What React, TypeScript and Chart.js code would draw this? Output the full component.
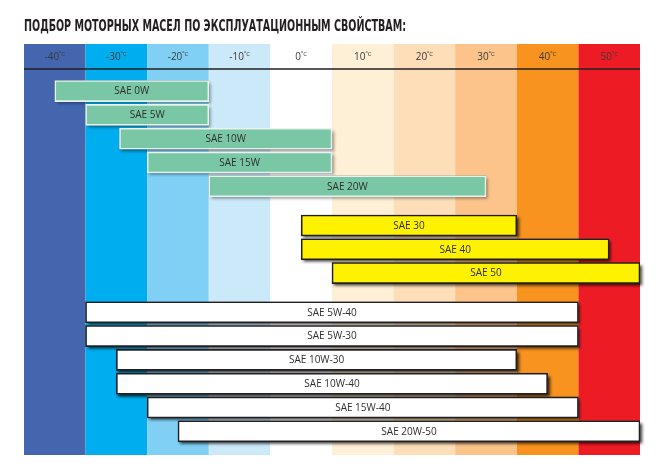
import { useEffect, useRef } from "react";
import { Chart, registerables } from "chart.js";

Chart.register(...registerables);

const chartTitle = "ПОДБОР МОТОРНЫХ МАСЕЛ ПО ЭКСПЛУАТАЦИОННЫМ СВОЙСТВАМ:";

// temperature columns (°C) and their band colours
const temperatures = [-40, -30, -20, -10, 0, 10, 20, 30, 40, 50];
const bandColors = [
  "#4366AF", "#00AEEF", "#80D0F5", "#CCE9F9", "#FFFFFF",
  "#FEF0D6", "#FDDEB9", "#FCC38B", "#F7931E", "#ED1C24",
];

// winter grades
const winterGrades = ["SAE 0W", "SAE 5W", "SAE 10W", "SAE 15W", "SAE 20W"];
const winterLow = [-40, -35, -29.5, -25, -15];
const winterHigh = [-15, -15, 5, 5, 30];

// summer grades
const summerGrades = ["SAE 30", "SAE 40", "SAE 50"];
const summerLow = [0, 0, 5];
const summerHigh = [35, 50, 55];

// all-season grades
const allSeasonGrades = ["SAE 5W-40", "SAE 5W-30", "SAE 10W-30", "SAE 10W-40", "SAE 15W-40", "SAE 20W-50"];
const allSeasonLow = [-35, -35, -30, -30, -25, -20];
const allSeasonHigh = [45, 45, 35, 40, 45, 55];

const groups = [
  { labels: winterGrades, low: winterLow, high: winterHigh, fill: "#79C7A5", border: "#E9F2ED", shadow: "rgba(0,0,0,0.4)" },
  { labels: summerGrades, low: summerLow, high: summerHigh, fill: "#FFF200", border: "#231F20", shadow: "rgba(0,0,0,0.75)" },
  { labels: allSeasonGrades, low: allSeasonLow, high: allSeasonHigh, fill: "#FFFFFF", border: "#231F20", shadow: "rgba(0,0,0,0.8)" },
];

const GROUP_GAP = 0.65;

function buildDatasets() {
  let row = 0;
  return groups.map((g, gi) => {
    const data = g.labels.map((_, i) => {
      const d = { x: [g.low[i], g.high[i]], y: row + gi * GROUP_GAP };
      row += 1;
      return d;
    });
    return {
      label: g.labels.join(","),
      names: g.labels,
      data,
      backgroundColor: g.fill,
      borderColor: g.border,
      borderWidth: 1.6,
      borderSkipped: false,
      barThickness: 21,
      grouped: false,
      shadowColor: g.shadow,
    };
  });
}

const decorPlugin = {
  id: "decor",
  beforeDatasetsDraw(chart: any) {
    const { ctx, chartArea } = chart;
    const xs = chart.scales.x;
    ctx.save();
    // temperature bands
    temperatures.forEach((t, i) => {
      const l = xs.getPixelForValue(t - 5);
      const r = xs.getPixelForValue(t + 5);
      ctx.fillStyle = bandColors[i];
      ctx.fillRect(l, chartArea.top, r - l, chartArea.bottom - chartArea.top);
    });
    // header labels
    const headerY = chartArea.top + 13;
    temperatures.forEach((t) => {
      const cx = xs.getPixelForValue(t);
      const num = String(t);
      const sup = "ºC";
      ctx.font = "10px 'Open Sans'";
      const wn = ctx.measureText(num).width;
      ctx.font = "6px 'Open Sans'";
      const ws = ctx.measureText(sup).width;
      const start = cx - (wn + ws) / 2;
      ctx.fillStyle = "#3A3A3A";
      ctx.textBaseline = "middle";
      ctx.textAlign = "left";
      ctx.font = "10px 'Open Sans'";
      ctx.fillText(num, start, headerY);
      ctx.font = "6px 'Open Sans'";
      ctx.fillText(sup, start + wn, headerY - 3);
    });
    // header line
    ctx.strokeStyle = "#231F20";
    ctx.lineWidth = 1.6;
    ctx.beginPath();
    ctx.moveTo(chartArea.left, chartArea.top + 25);
    ctx.lineTo(chartArea.right, chartArea.top + 25);
    ctx.stroke();
    // bar shadows
    chart.data.datasets.forEach((ds: any, di: number) => {
      const meta = chart.getDatasetMeta(di);
      meta.data.forEach((el: any) => {
        const { x, y, base, height } = el.getProps(["x", "y", "base", "height"], true);
        const left = Math.min(x, base);
        const w = Math.abs(x - base);
        ctx.save();
        ctx.shadowColor = ds.shadowColor;
        ctx.shadowBlur = 3;
        ctx.shadowOffsetX = 2;
        ctx.shadowOffsetY = 2.5;
        ctx.fillStyle = "#444";
        ctx.fillRect(left, y - height / 2, w, height);
        ctx.restore();
      });
    });
    ctx.restore();
  },
  afterDatasetsDraw(chart: any) {
    const { ctx } = chart;
    ctx.save();
    ctx.font = "10px 'Open Sans'";
    ctx.fillStyle = "#2E2E2E";
    ctx.textAlign = "center";
    ctx.textBaseline = "middle";
    chart.data.datasets.forEach((ds: any, di: number) => {
      const meta = chart.getDatasetMeta(di);
      meta.data.forEach((el: any, i: number) => {
        const { x, y, base } = el.getProps(["x", "y", "base"], true);
        ctx.fillText(ds.names[i], (x + base) / 2, y + 0.5);
      });
    });
    ctx.restore();
  },
  afterDraw(chart: any) {
    const { ctx, chartArea } = chart;
    ctx.save();
    ctx.font = "bold 16px 'Liberation Sans Narrow', 'DejaVu Sans Condensed', sans-serif";
    ctx.fillStyle = "#231F20";
    ctx.textAlign = "left";
    ctx.textBaseline = "alphabetic";
    ctx.fillText(chartTitle, chartArea.left, 31, 382);
    ctx.restore();
  },
};

export default function App() {
  const ref = useRef<HTMLCanvasElement | null>(null);
  useEffect(() => {
    if (!ref.current) return;
    const datasets = buildDatasets();
    const chart = new Chart(ref.current, {
      type: "bar",
      data: { datasets: datasets as any },
      options: {
        indexAxis: "y",
        responsive: false,
        animation: false,
        grouped: false,
        layout: { padding: { left: 24, right: 21, top: 44, bottom: 18 } },
        plugins: {
          legend: { display: false },
          tooltip: { enabled: false },
          title: { display: false },
        },
        scales: {
          x: { type: "linear", min: -45, max: 55, display: false },
          y: { type: "linear", min: -1.98, max: 15.3, reverse: true, offset: false, display: false },
        },
      } as any,
      plugins: [decorPlugin],
    });
    return () => chart.destroy();
  }, []);
  return (
    <div style={{ position: "fixed", left: 0, top: 0, width: 661, height: 473, background: "#fff" }}>
      <canvas ref={ref} width={661} height={473} style={{ display: "block" }} />
    </div>
  );
}
